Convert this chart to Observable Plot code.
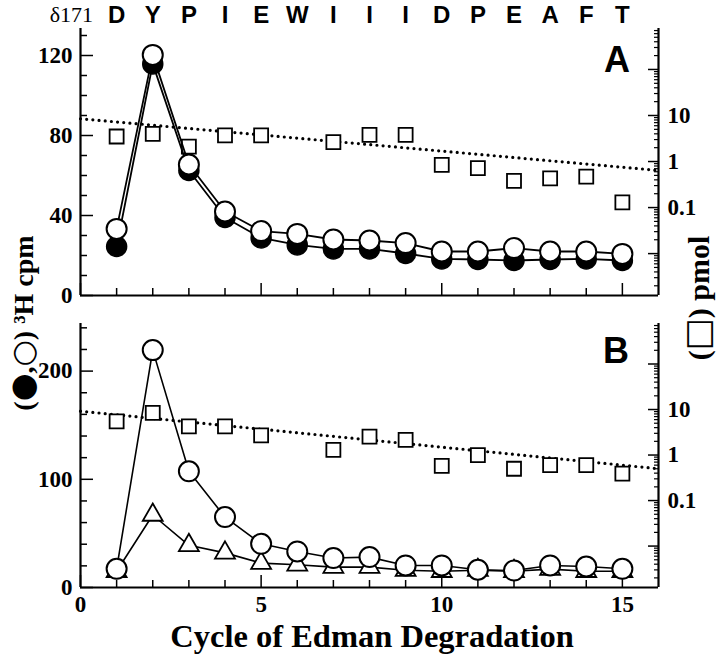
<!DOCTYPE html>
<html><head><meta charset="utf-8">
<script src="https://cdn.jsdelivr.net/npm/d3@7"></script>
<script src="https://cdn.jsdelivr.net/npm/@observablehq/plot@0.6"></script>
<style>
body{margin:0;background:#fff;}
#fig{position:relative;width:720px;height:654px;overflow:hidden;background:#fff;}
#fig svg{position:absolute;left:0;}
</style></head><body><div id="fig"></div>
<script>
// ---- data ----
const cycles = [1,2,3,4,5,6,7,8,9,10,11,12,13,14,15];
const residues = ["D","Y","P","I","E","W","I","I","I","D","P","E","A","F","T"];
const residueStart = "δ171";
// Panel A: 3H cpm
const aFilled = [24.5,115.8,62.5,39,28.8,25.3,23.3,23.3,21,18.3,18,17.5,18,18.3,17.5];
const aOpen   = [33.3,120.3,65.5,42,32.2,30.8,28,27.5,26.2,22,22,23.7,22,22,20.8];
// Panel A: pmol (log)
const pmolCyclesA = [1,2,3,4,5,7,8,9,10,11,12,13,14,15];
const aPmol = [3.5,4.0,2.1,3.7,3.7,2.65,3.8,3.8,0.85,0.72,0.38,0.43,0.47,0.13];
// Panel B: 3H cpm
const bOpen = [17.3,219.4,107.4,65.1,40.4,33.3,27.2,28.1,20.4,20.4,16.4,15.7,20.4,19.4,17.3];
const bTri  = [15,67,39,32,22.5,21,18.8,18.8,16,15,16,15,17,15,15];
// Panel B: pmol (log)
const pmolCyclesB = [1,2,3,4,5,7,8,9,10,11,12,13,14,15];
const bPmol = [5.5,8.4,4.25,4.25,2.7,1.3,2.55,2.15,0.58,1.0,0.5,0.6,0.6,0.39];
// fitted decay lines (endpoints)
const fitX = [0,16];
const fitA = [8.5,0.64];
const fitB = [9.2,0.5];
// tick labels
const xTickLabels = [0,5,10,15];
const yTicksA = [0,40,80,120];
const yTicksB = [0,100,200];
const logTickLabels = [0.1,1,10];
const logDecades = [0.001,0.01,0.1,1,10,100];

// ---- layout ----
const W = 720, ML = 80, MR = 62;
const xDomain = [0,16];
const logDomain = [0.00123, 776];
const serif = "'Liberation Serif','Times New Roman',serif";
const sans = "'Liberation Sans','Arial',sans-serif";
const fig = document.getElementById("fig");

const logMajor = logDecades.filter(d => d >= logDomain[0] && d <= logDomain[1]);
const logMinor = [];
for (const d of logDecades) for (let k = 2; k <= 9; k++) { const v = k*d; if (v >= logDomain[0] && v <= logDomain[1]) logMinor.push(v); }
const xMinor = cycles.filter(c => c % 5 !== 0);

const axisFont = {fontFamily: serif, fontSize: 23, fontWeight: "bold"};

function place(svg, top){ svg.style.top = top + "px"; fig.appendChild(svg); }

function panel({top, height, mt, mb, yDomain, yMajor, yMinor, lineMarks, pmolX, pmolY, fitY, showX, showTop}) {
  const pmolRows = pmolX.map((c,i) => ({cycle: c, pmol: pmolY[i]}));
  const fitRows = fitX.map((c,i) => ({cycle: c, pmol: fitY[i]}));
  // log overlay (drawn beneath)
  const logPlot = Plot.plot({
    width: W, height, marginLeft: ML, marginRight: MR, marginTop: mt, marginBottom: mb,
    style: {background: "transparent", overflow: "visible"},
    x: {domain: xDomain, axis: null},
    y: {type: "log", domain: logDomain},
    marks: [
      Plot.axisY({anchor: "right", ticks: logMajor, tickSize: -11, tickPadding: 20, strokeWidth: 1.5,
        tickFormat: d => logTickLabels.includes(d) ? String(d) : "", label: null, ...axisFont}),
      Plot.axisY({anchor: "right", ticks: logMinor, tickSize: -5, tickPadding: 0, strokeWidth: 1.2,
        tickFormat: () => "", label: null}),
      Plot.line(fitRows, {x: "cycle", y: "pmol", stroke: "black", strokeWidth: 3.2,
        strokeDasharray: "0 6.2", strokeLinecap: "round"}),
      Plot.dot(pmolRows, {x: "cycle", y: "pmol", symbol: "square", r: 7.9, fill: "white", stroke: "black", strokeWidth: 1.8})
    ]
  });
  place(logPlot, top);

  const marks = [
    Plot.ruleX([xDomain[0]], {strokeWidth: 2.2}),
    Plot.ruleX([xDomain[1]], {strokeWidth: 2.2}),
    Plot.ruleY([yDomain[0]], {strokeWidth: 2.2}),
    Plot.axisY({ticks: yMajor, tickSize: -13, tickPadding: 21, strokeWidth: 1.5, label: null, ...axisFont}),
    Plot.axisY({ticks: yMinor, tickSize: -7, tickPadding: 0, strokeWidth: 1.5, tickFormat: () => "", label: null}),
    Plot.axisX({ticks: xTickLabels, tickSize: -12, tickPadding: 20, strokeWidth: 1.5, label: null,
      tickFormat: showX ? (d => String(d)) : (() => ""), ...axisFont}),
    Plot.axisX({ticks: xMinor, tickSize: -7, tickPadding: 0, strokeWidth: 1.5, tickFormat: () => "", label: null}),
    ...lineMarks
  ];
  if (showTop) marks.push(Plot.axisX({anchor: "top", ticks: cycles, tickSize: 0, tickPadding: 6,
      tickFormat: d => residues[d-1], label: null, fontFamily: "'Liberation Sans Narrow','Liberation Sans',Arial,sans-serif",
      fontSize: 24, fontWeight: "bold"}));
  const linPlot = Plot.plot({
    width: W, height, marginLeft: ML, marginRight: MR, marginTop: mt, marginBottom: mb,
    style: {background: "transparent", overflow: "visible"},
    x: {domain: xDomain},
    y: {domain: yDomain},
    marks
  });
  place(linPlot, top);
}

const rowsA = cycles.map((c,i) => ({cycle: c, filled: aFilled[i], open: aOpen[i]}));
const rowsB = cycles.map((c,i) => ({cycle: c, open: bOpen[i], tri: bTri[i]}));

panel({
  top: 0, height: 300, mt: 28, mb: 5, yDomain: [0, 133.5],
  yMajor: yTicksA, yMinor: d3.range(10, 131, 10).filter(v => v % 40 !== 0),
  pmolX: pmolCyclesA, pmolY: aPmol, fitY: fitA, showX: false, showTop: true,
  lineMarks: [
    Plot.line(rowsA, {x: "cycle", y: "filled", stroke: "black", strokeWidth: 1.8}),
    Plot.line(rowsA, {x: "cycle", y: "open", stroke: "black", strokeWidth: 1.8}),
    Plot.dot(rowsA, {x: "cycle", y: "filled", r: 10, fill: "black", stroke: "black", strokeWidth: 1.5}),
    Plot.dot(rowsA, {x: "cycle", y: "open", r: 10, fill: "white", stroke: "black", strokeWidth: 2})
  ]
});
panel({
  top: 300, height: 354, mt: 23, mb: 67, yDomain: [0, 244],
  yMajor: yTicksB, yMinor: d3.range(20, 241, 20).filter(v => v % 100 !== 0),
  pmolX: pmolCyclesB, pmolY: bPmol, fitY: fitB, showX: true, showTop: false,
  lineMarks: [
    Plot.line(rowsB, {x: "cycle", y: "tri", stroke: "black", strokeWidth: 1.6}),
    Plot.line(rowsB, {x: "cycle", y: "open", stroke: "black", strokeWidth: 1.6}),
    Plot.dot(rowsB, {x: "cycle", y: "tri", symbol: "triangle", r: 7.4, fill: "white", stroke: "black", strokeWidth: 1.8}),
    Plot.dot(rowsB, {x: "cycle", y: "open", r: 10, fill: "white", stroke: "black", strokeWidth: 2})
  ]
});

// ---- annotation overlay ----
const ann = d3.create("svg").attr("width", W).attr("height", 654).attr("viewBox", `0 0 ${W} 654`)
  .style("top", "0px").style("pointer-events", "none");
ann.append("text").attr("x", 93).attr("y", 22).attr("text-anchor", "end")
  .attr("font-family", serif).attr("font-size", 22).text(residueStart);
ann.append("text").attr("x", 617).attr("y", 72).attr("text-anchor", "middle")
  .attr("font-family", sans).attr("font-weight", "bold").attr("font-size", 36).text("A");
ann.append("text").attr("x", 616).attr("y", 363).attr("text-anchor", "middle")
  .attr("font-family", sans).attr("font-weight", "bold").attr("font-size", 36).text("B");
ann.append("text").attr("x", 372).attr("y", 647).attr("text-anchor", "middle")
  .attr("font-family", serif).attr("font-weight", "bold").attr("font-size", 32.5).text("Cycle of Edman Degradation");
const yl = ann.append("text").attr("transform", "translate(33,323) rotate(-90)").attr("text-anchor", "middle")
  .attr("font-family", serif).attr("font-weight", "bold").attr("font-size", 28);
yl.append("tspan").text("(");
yl.append("tspan").attr("font-size", 32).attr("font-family", "'DejaVu Sans',sans-serif").text("●");
yl.append("tspan").text(",");
yl.append("tspan").attr("font-size", 30).attr("font-family", "'DejaVu Sans',sans-serif").text("○");
yl.append("tspan").text(") ³H cpm");
const yr = ann.append("text").attr("transform", "translate(709,298) rotate(-90)").attr("text-anchor", "middle")
  .attr("font-family", serif).attr("font-weight", "bold").attr("font-size", 30);
yr.append("tspan").text("(");
yr.append("tspan").attr("font-size", 34).attr("font-family", "'DejaVu Sans',sans-serif").text("□");
yr.append("tspan").text(") pmol");
fig.appendChild(ann.node());
</script></body></html>
